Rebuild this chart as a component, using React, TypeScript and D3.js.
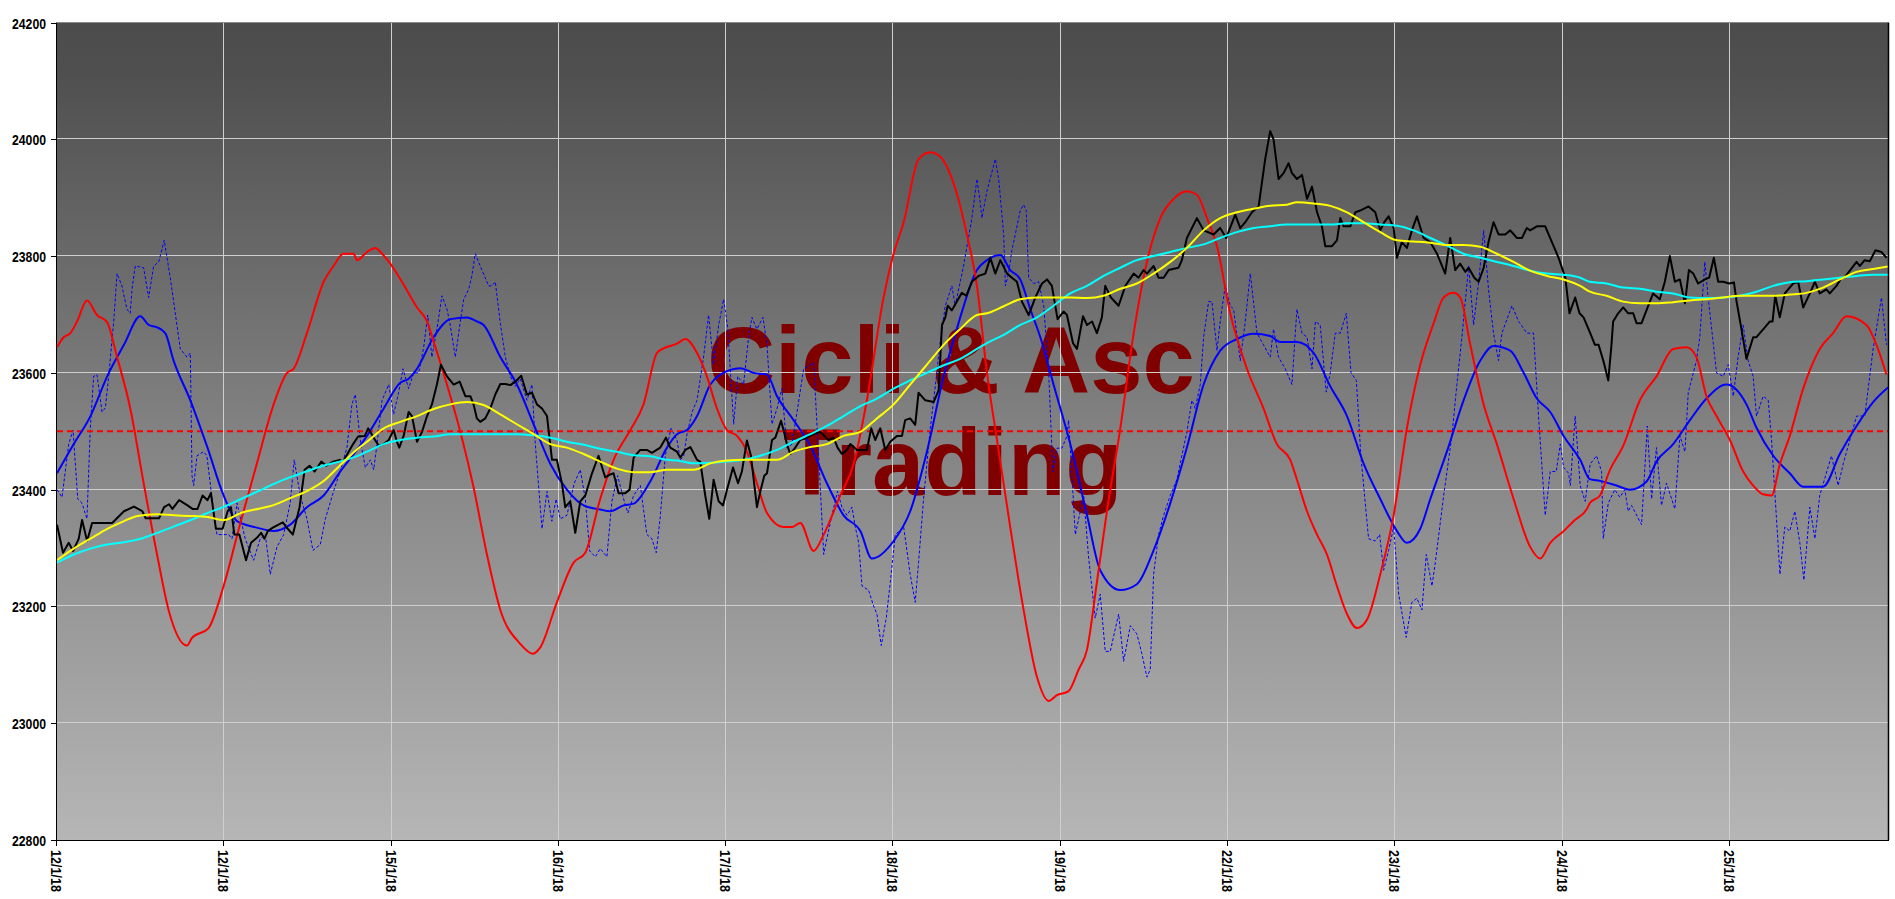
import React from 'react';
import * as d3 from 'd3';

const W = 1895;
const H = 899;
const PL = 57, PR = 1888, PT = 22.5, PB = 840;

const dateLabels = ['12/1/18', '12/1/18', '15/1/18', '16/1/18', '17/1/18', '18/1/18', '19/1/18', '22/1/18', '23/1/18', '24/1/18', '25/1/18'];
const yTicks = [22800, 23000, 23200, 23400, 23600, 23800, 24000, 24200];
const dayExtent = 10.945;
const levelValue = 23500;
const watermark = ['Cicli & Asc', 'Trading'];

// [day, value]
const price: [number, number][] = [[0,23340],[0.036,23292],[0.07,23309],[0.096,23295],[0.13,23316],[0.15,23348],[0.18,23312],[0.21,23343],[0.33,23343],[0.40,23363],[0.46,23371],[0.51,23363],[0.53,23351],[0.61,23351],[0.64,23370],[0.67,23375],[0.69,23367],[0.73,23382],[0.78,23373],[0.81,23367],[0.84,23367],[0.87,23390],[0.90,23382],[0.92,23394],[0.95,23333],[0.99,23333],[1.02,23363],[1.04,23370],[1.06,23323],[1.09,23323],[1.13,23279],[1.16,23309],[1.20,23319],[1.22,23326],[1.24,23316],[1.26,23329],[1.29,23335],[1.35,23344],[1.37,23336],[1.41,23323],[1.45,23370],[1.48,23434],[1.51,23441],[1.54,23431],[1.58,23448],[1.61,23441],[1.65,23448],[1.69,23451],[1.71,23448],[1.77,23478],[1.80,23491],[1.84,23492],[1.86,23505],[1.893,23489],[1.923,23475],[1.953,23478],[1.983,23485],[2.012,23502],[2.032,23482],[2.046,23472],[2.072,23492],[2.102,23533],[2.122,23526],[2.152,23482],[2.182,23499],[2.212,23526],[2.241,23546],[2.271,23580],[2.295,23614],[2.331,23594],[2.371,23580],[2.407,23585],[2.441,23560],[2.471,23560],[2.49,23546],[2.51,23522],[2.53,23516],[2.56,23522],[2.59,23539],[2.62,23563],[2.65,23581],[2.68,23581],[2.71,23579],[2.74,23585],[2.775,23595],[2.809,23563],[2.839,23566],[2.869,23546],[2.899,23539],[2.929,23526],[2.959,23451],[2.988,23451],[3.018,23411],[3.038,23370],[3.068,23380],[3.098,23326],[3.128,23380],[3.158,23390],[3.198,23428],[3.237,23458],[3.277,23421],[3.307,23426],[3.327,23428],[3.357,23394],[3.397,23394],[3.423,23400],[3.447,23455],[3.486,23468],[3.526,23468],[3.556,23463],[3.606,23472],[3.64,23489],[3.666,23472],[3.706,23465],[3.726,23455],[3.756,23468],[3.786,23473],[3.826,23451],[3.845,23448],[3.875,23390],[3.899,23350],[3.925,23417],[3.955,23380],[3.981,23373],[4.005,23400],[4.041,23438],[4.071,23411],[4.094,23431],[4.124,23484],[4.148,23458],[4.184,23370],[4.204,23397],[4.228,23424],[4.244,23428],[4.274,23485],[4.294,23489],[4.328,23518],[4.343,23502],[4.363,23478],[4.383,23461],[4.413,23472],[4.443,23485],[4.483,23489],[4.523,23495],[4.563,23499],[4.612,23485],[4.642,23489],[4.666,23472],[4.692,23461],[4.722,23468],[4.742,23478],[4.782,23468],[4.841,23468],[4.867,23505],[4.891,23485],[4.921,23505],[4.951,23468],[4.981,23482],[5.021,23492],[5.051,23492],[5.07,23519],[5.10,23522],[5.13,23511],[5.15,23566],[5.19,23553],[5.24,23550],[5.27,23570],[5.29,23682],[5.31,23695],[5.324,23715],[5.349,23707],[5.379,23722],[5.409,23737],[5.435,23732],[5.469,23756],[5.509,23766],[5.549,23770],[5.579,23797],[5.609,23770],[5.639,23793],[5.679,23770],[5.708,23763],[5.738,23756],[5.768,23722],[5.808,23699],[5.848,23729],[5.888,23753],[5.918,23760],[5.947,23749],[5.981,23692],[6.017,23705],[6.037,23699],[6.073,23651],[6.097,23641],[6.133,23697],[6.157,23682],[6.187,23688],[6.216,23668],[6.246,23695],[6.266,23749],[6.30,23729],[6.346,23715],[6.386,23749],[6.436,23770],[6.465,23763],[6.495,23776],[6.515,23770],[6.555,23783],[6.585,23763],[6.615,23763],[6.645,23776],[6.704,23780],[6.724,23793],[6.754,23831],[6.814,23865],[6.854,23844],[6.914,23837],[6.953,23848],[6.989,23831],[7.043,23871],[7.073,23848],[7.103,23858],[7.143,23875],[7.183,23885],[7.222,23966],[7.252,24014],[7.272,24000],[7.302,23932],[7.332,23942],[7.362,23959],[7.382,23942],[7.412,23932],[7.442,23939],[7.472,23898],[7.502,23919],[7.532,23875],[7.561,23851],[7.581,23817],[7.621,23817],[7.651,23827],[7.671,23865],[7.691,23851],[7.731,23851],[7.761,23875],[7.79,23878],[7.84,23885],[7.88,23875],[7.91,23844],[7.934,23858],[7.96,23868],[7.99,23848],[8.01,23797],[8.039,23824],[8.069,23814],[8.099,23844],[8.129,23868],[8.169,23831],[8.209,23824],[8.249,23804],[8.298,23770],[8.328,23831],[8.358,23776],[8.388,23787],[8.418,23773],[8.438,23780],[8.472,23763],[8.498,23756],[8.528,23780],[8.557,23824],[8.587,23858],[8.617,23837],[8.657,23837],[8.687,23844],[8.727,23831],[8.757,23831],[8.786,23848],[8.806,23844],[8.846,23851],[8.896,23851],[8.936,23824],[8.976,23797],[9.016,23763],[9.041,23702],[9.075,23729],[9.101,23702],[9.125,23695],[9.165,23668],[9.193,23648],[9.215,23648],[9.243,23621],[9.273,23587],[9.292,23648],[9.302,23688],[9.332,23702],[9.362,23712],[9.392,23702],[9.422,23702],[9.442,23685],[9.472,23685],[9.512,23715],[9.541,23736],[9.581,23726],[9.611,23756],[9.641,23800],[9.671,23756],[9.701,23760],[9.731,23719],[9.755,23776],[9.781,23770],[9.81,23753],[9.85,23760],[9.876,23763],[9.904,23797],[9.93,23756],[9.96,23756],[9.996,23753],[10.024,23755],[10.04,23722],[10.069,23675],[10.099,23624],[10.139,23661],[10.159,23661],[10.179,23668],[10.209,23678],[10.239,23688],[10.255,23688],[10.271,23732],[10.298,23695],[10.328,23736],[10.378,23753],[10.408,23756],[10.438,23712],[10.478,23736],[10.508,23756],[10.537,23736],[10.577,23743],[10.597,23736],[10.637,23749],[10.667,23763],[10.687,23764],[10.757,23790],[10.776,23783],[10.806,23793],[10.836,23791],[10.87,23810],[10.906,23807],[10.936,23797]];

const fastAvg: [number, number][] = [[0,23279],[0.1,23299],[0.2,23316],[0.3,23333],[0.4,23346],[0.48,23355],[0.6,23358],[0.7,23356],[0.8,23355],[0.9,23353],[1.0,23348],[1.1,23360],[1.2,23367],[1.29,23373],[1.39,23385],[1.49,23397],[1.59,23414],[1.69,23441],[1.79,23468],[1.853,23482],[1.953,23505],[2.052,23516],[2.152,23526],[2.251,23538],[2.351,23546],[2.451,23550],[2.55,23545],[2.65,23529],[2.749,23512],[2.849,23495],[2.949,23478],[3.048,23472],[3.148,23461],[3.247,23448],[3.347,23436],[3.447,23430],[3.546,23430],[3.646,23434],[3.706,23434],[3.806,23434],[3.905,23445],[4.005,23450],[4.104,23451],[4.204,23451],[4.304,23451],[4.403,23465],[4.503,23473],[4.602,23478],[4.702,23492],[4.802,23499],[4.901,23522],[5.001,23546],[5.1,23580],[5.2,23614],[5.3,23648],[5.399,23675],[5.499,23699],[5.559,23702],[5.659,23714],[5.758,23726],[5.858,23729],[5.957,23729],[6.057,23729],[6.157,23728],[6.256,23732],[6.356,23744],[6.455,23753],[6.555,23770],[6.655,23790],[6.754,23814],[6.854,23844],[6.953,23865],[7.053,23875],[7.153,23881],[7.252,23886],[7.352,23888],[7.412,23892],[7.512,23890],[7.611,23886],[7.711,23875],[7.81,23858],[7.91,23841],[8.01,23827],[8.109,23825],[8.209,23823],[8.308,23819],[8.408,23819],[8.508,23816],[8.607,23804],[8.707,23790],[8.806,23775],[8.906,23766],[9.006,23760],[9.105,23749],[9.163,23739],[9.263,23732],[9.362,23722],[9.462,23719],[9.561,23719],[9.661,23721],[9.761,23724],[9.86,23726],[9.96,23729],[10.059,23732],[10.159,23732],[10.259,23732],[10.358,23734],[10.458,23737],[10.557,23746],[10.657,23760],[10.757,23773],[10.856,23778],[10.945,23782]];

const slowAvg: [number, number][] = [[0,23275],[0.1,23289],[0.2,23299],[0.3,23306],[0.4,23310],[0.5,23316],[0.6,23326],[0.7,23337],[0.8,23348],[0.9,23360],[1.0,23371],[1.1,23384],[1.2,23397],[1.29,23409],[1.39,23421],[1.49,23431],[1.59,23441],[1.69,23448],[1.79,23457],[1.853,23465],[1.953,23478],[2.052,23485],[2.152,23489],[2.251,23491],[2.351,23495],[2.451,23495],[2.55,23495],[2.65,23495],[2.749,23495],[2.849,23493],[2.949,23489],[3.048,23482],[3.148,23477],[3.247,23470],[3.347,23465],[3.447,23459],[3.546,23457],[3.646,23451],[3.706,23450],[3.806,23445],[3.905,23446],[4.005,23448],[4.104,23451],[4.204,23458],[4.304,23468],[4.403,23482],[4.503,23495],[4.602,23509],[4.702,23526],[4.802,23543],[4.901,23556],[5.001,23573],[5.1,23587],[5.2,23600],[5.3,23613],[5.399,23624],[5.499,23641],[5.559,23651],[5.659,23665],[5.758,23682],[5.858,23695],[5.957,23715],[6.057,23736],[6.157,23749],[6.256,23766],[6.356,23780],[6.455,23793],[6.555,23800],[6.655,23807],[6.754,23814],[6.854,23820],[6.953,23831],[7.053,23841],[7.153,23848],[7.252,23851],[7.352,23854],[7.412,23854],[7.512,23854],[7.611,23854],[7.711,23856],[7.81,23856],[7.91,23854],[8.01,23852],[8.109,23844],[8.209,23831],[8.308,23818],[8.408,23804],[8.508,23797],[8.607,23790],[8.707,23783],[8.806,23775],[8.906,23770],[9.006,23768],[9.105,23763],[9.163,23756],[9.263,23753],[9.362,23746],[9.462,23744],[9.561,23739],[9.661,23736],[9.761,23729],[9.86,23728],[9.96,23729],[10.059,23732],[10.159,23739],[10.259,23749],[10.358,23755],[10.458,23757],[10.557,23760],[10.657,23763],[10.757,23766],[10.856,23768],[10.945,23768]];

const cycleFast: [number, number][] = [[0,23428],[0.1,23478],[0.2,23526],[0.3,23594],[0.4,23648],[0.498,23697],[0.548,23682],[0.598,23678],[0.647,23668],[0.697,23621],[0.797,23553],[0.896,23475],[0.996,23390],[1.076,23346],[1.195,23335],[1.295,23329],[1.394,23340],[1.494,23370],[1.594,23390],[1.693,23431],[1.793,23468],[1.853,23492],[1.953,23539],[2.052,23583],[2.102,23590],[2.152,23607],[2.251,23661],[2.351,23692],[2.451,23695],[2.51,23688],[2.55,23682],[2.65,23627],[2.749,23580],[2.849,23512],[2.949,23444],[3.048,23400],[3.148,23373],[3.247,23366],[3.307,23363],[3.387,23373],[3.447,23376],[3.546,23414],[3.646,23472],[3.706,23495],[3.766,23502],[3.826,23526],[3.905,23580],[3.965,23597],[4.084,23608],[4.164,23600],[4.244,23597],[4.304,23560],[4.403,23519],[4.503,23475],[4.602,23411],[4.702,23356],[4.802,23329],[4.871,23282],[5.001,23312],[5.1,23363],[5.2,23465],[5.3,23594],[5.399,23695],[5.499,23776],[5.559,23793],[5.639,23802],[5.698,23776],[5.758,23760],[5.818,23709],[5.878,23661],[5.957,23580],[6.057,23478],[6.157,23356],[6.236,23262],[6.356,23228],[6.455,23238],[6.555,23296],[6.655,23377],[6.754,23472],[6.854,23580],[6.953,23638],[7.053,23658],[7.153,23667],[7.252,23663],[7.312,23653],[7.412,23653],[7.512,23634],[7.611,23577],[7.711,23526],[7.81,23445],[7.91,23384],[8.01,23329],[8.069,23309],[8.149,23333],[8.209,23384],[8.308,23465],[8.408,23553],[8.508,23621],[8.587,23646],[8.687,23638],[8.767,23600],[8.846,23556],[8.926,23533],[9.006,23492],[9.105,23451],[9.163,23418],[9.223,23415],[9.322,23407],[9.402,23400],[9.502,23414],[9.561,23448],[9.661,23478],[9.761,23519],[9.86,23556],[9.98,23580],[10.099,23546],[10.159,23506],[10.259,23458],[10.358,23428],[10.438,23405],[10.557,23405],[10.657,23461],[10.757,23509],[10.856,23550],[10.945,23575]];

const cycleRaw: [number, number][] = [[0,23400],[0.03,23387],[0.07,23478],[0.096,23502],[0.124,23384],[0.149,23377],[0.179,23350],[0.199,23505],[0.219,23594],[0.239,23597],[0.269,23533],[0.289,23540],[0.309,23594],[0.339,23688],[0.359,23770],[0.388,23749],[0.418,23709],[0.438,23702],[0.448,23743],[0.468,23783],[0.518,23780],[0.548,23729],[0.578,23783],[0.608,23790],[0.641,23827],[0.677,23763],[0.707,23702],[0.737,23641],[0.777,23627],[0.797,23634],[0.807,23424],[0.817,23407],[0.837,23458],[0.876,23465],[0.896,23458],[0.936,23363],[0.956,23323],[0.996,23323],[1.026,23323],[1.046,23316],[1.076,23377],[1.125,23316],[1.175,23279],[1.215,23316],[1.245,23323],[1.275,23255],[1.315,23302],[1.355,23323],[1.394,23377],[1.418,23451],[1.454,23390],[1.494,23350],[1.53,23296],[1.574,23306],[1.604,23350],[1.653,23397],[1.689,23428],[1.733,23472],[1.763,23546],[1.783,23563],[1.813,23485],[1.843,23438],[1.873,23451],[1.893,23434],[1.913,23478],[1.943,23553],[1.983,23580],[2.012,23529],[2.042,23566],[2.068,23607],[2.102,23573],[2.132,23600],[2.162,23600],[2.192,23644],[2.216,23699],[2.241,23627],[2.271,23675],[2.301,23732],[2.331,23709],[2.347,23688],[2.381,23627],[2.411,23688],[2.431,23726],[2.461,23743],[2.48,23766],[2.5,23804],[2.54,23776],[2.58,23749],[2.6,23749],[2.62,23756],[2.65,23685],[2.68,23627],[2.71,23594],[2.739,23577],[2.769,23590],[2.809,23553],[2.839,23580],[2.859,23478],[2.899,23333],[2.929,23397],[2.958,23346],[2.984,23384],[3.008,23350],[3.048,23356],[3.092,23411],[3.128,23434],[3.158,23384],[3.184,23295],[3.218,23285],[3.247,23299],[3.287,23285],[3.317,23380],[3.351,23424],[3.387,23384],[3.413,23360],[3.447,23390],[3.487,23407],[3.526,23323],[3.556,23316],[3.582,23292],[3.606,23353],[3.636,23458],[3.67,23505],[3.706,23485],[3.726,23451],[3.746,23458],[3.766,23495],[3.796,23533],[3.826,23553],[3.865,23627],[3.895,23699],[3.925,23614],[3.955,23682],[3.985,23726],[4.009,23678],[4.045,23512],[4.069,23594],[4.104,23580],[4.134,23661],[4.154,23695],[4.184,23675],[4.22,23695],[4.244,23648],[4.274,23512],[4.304,23539],[4.333,23573],[4.363,23471],[4.393,23478],[4.427,23539],[4.463,23607],[4.523,23617],[4.553,23458],[4.583,23289],[4.602,23316],[4.632,23356],[4.666,23397],[4.692,23370],[4.722,23356],[4.752,23370],[4.772,23336],[4.792,23309],[4.812,23235],[4.851,23228],[4.881,23201],[4.901,23187],[4.927,23133],[4.957,23180],[4.981,23241],[5.011,23323],[5.061,23336],[5.1,23255],[5.13,23207],[5.15,23275],[5.18,23384],[5.22,23505],[5.25,23577],[5.28,23655],[5.31,23715],[5.349,23749],[5.369,23715],[5.419,23783],[5.469,23865],[5.499,23932],[5.519,23891],[5.529,23865],[5.559,23912],[5.609,23966],[5.629,23932],[5.659,23837],[5.669,23749],[5.688,23770],[5.708,23810],[5.728,23837],[5.758,23878],[5.778,23888],[5.794,23878],[5.808,23763],[5.838,23753],[5.868,23756],[5.898,23715],[5.928,23600],[5.953,23431],[5.977,23471],[6.007,23471],[6.037,23492],[6.047,23519],[6.067,23424],[6.087,23323],[6.107,23350],[6.137,23390],[6.167,23282],[6.206,23180],[6.236,23221],[6.266,23123],[6.296,23123],[6.346,23187],[6.376,23106],[6.416,23167],[6.455,23153],[6.485,23119],[6.515,23079],[6.535,23092],[6.555,23255],[6.585,23323],[6.615,23356],[6.655,23390],[6.694,23417],[6.754,23499],[6.784,23553],[6.804,23539],[6.834,23580],[6.854,23661],[6.884,23722],[6.904,23722],[6.934,23638],[6.953,23688],[6.983,23749],[7.013,23715],[7.033,23709],[7.073,23621],[7.103,23688],[7.133,23770],[7.173,23668],[7.212,23648],[7.252,23627],[7.272,23675],[7.302,23627],[7.342,23607],[7.382,23580],[7.402,23668],[7.412,23709],[7.442,23668],[7.472,23661],[7.502,23607],[7.522,23688],[7.551,23682],[7.587,23567],[7.611,23600],[7.641,23668],[7.671,23668],[7.707,23702],[7.735,23600],[7.767,23587],[7.794,23458],[7.84,23316],[7.88,23312],[7.906,23323],[7.93,23262],[7.96,23296],[7.99,23336],[8.02,23221],[8.065,23147],[8.099,23207],[8.129,23214],[8.159,23194],[8.185,23289],[8.219,23235],[8.239,23275],[8.289,23390],[8.338,23492],[8.368,23580],[8.398,23661],[8.438,23783],[8.468,23682],[8.498,23756],[8.528,23844],[8.557,23743],[8.587,23668],[8.617,23621],[8.637,23668],[8.697,23715],[8.737,23688],[8.787,23668],[8.826,23668],[8.856,23526],[8.896,23356],[8.926,23431],[8.962,23431],[8.986,23478],[9.006,23438],[9.036,23428],[9.046,23407],[9.075,23526],[9.105,23407],[9.135,23380],[9.165,23444],[9.203,23458],[9.233,23431],[9.243,23316],[9.273,23377],[9.312,23400],[9.342,23387],[9.372,23400],[9.392,23363],[9.412,23373],[9.472,23340],[9.506,23509],[9.532,23384],[9.561,23472],[9.591,23373],[9.621,23411],[9.671,23367],[9.701,23492],[9.731,23465],[9.751,23566],[9.8,23621],[9.82,23661],[9.85,23790],[9.87,23729],[9.92,23600],[9.96,23594],[9.99,23614],[10.02,23560],[10.049,23627],[10.079,23682],[10.109,23621],[10.139,23594],[10.159,23526],[10.199,23560],[10.229,23553],[10.249,23485],[10.299,23255],[10.328,23336],[10.358,23329],[10.388,23363],[10.418,23309],[10.442,23245],[10.478,23370],[10.508,23316],[10.537,23390],[10.607,23458],[10.647,23407],[10.677,23444],[10.757,23526],[10.806,23526],[10.856,23641],[10.906,23729],[10.936,23648]];

const cycleSlow: [number, number][] = [[0,23644],[0.04,23661],[0.08,23668],[0.12,23688],[0.179,23724],[0.239,23699],[0.299,23687],[0.359,23627],[0.438,23539],[0.518,23411],[0.598,23289],[0.667,23194],[0.777,23133],[0.807,23146],[0.906,23163],[0.996,23235],[1.096,23343],[1.195,23445],[1.295,23546],[1.375,23600],[1.414,23607],[1.494,23668],[1.594,23756],[1.653,23783],[1.713,23804],[1.773,23804],[1.793,23793],[1.853,23807],[1.903,23814],[1.943,23804],[1.992,23787],[2.062,23756],[2.152,23712],[2.212,23688],[2.251,23654],[2.331,23580],[2.411,23499],[2.49,23404],[2.57,23289],[2.65,23194],[2.769,23136],[2.843,23119],[2.889,23130],[2.988,23207],[3.088,23275],[3.158,23292],[3.247,23384],[3.327,23451],[3.427,23502],[3.506,23546],[3.586,23634],[3.626,23642],[3.706,23650],[3.756,23658],[3.826,23634],[3.885,23594],[3.945,23539],[4.005,23502],[4.065,23492],[4.124,23465],[4.184,23411],[4.244,23360],[4.343,23336],[4.393,23336],[4.443,23343],[4.523,23295],[4.583,23323],[4.682,23390],[4.762,23444],[4.841,23553],[4.941,23729],[5.001,23804],[5.061,23858],[5.15,23966],[5.22,23978],[5.28,23970],[5.359,23925],[5.439,23837],[5.499,23749],[5.559,23600],[5.619,23485],[5.698,23336],[5.778,23194],[5.858,23079],[5.928,23038],[5.977,23048],[6.047,23055],[6.107,23092],[6.157,23126],[6.216,23241],[6.276,23363],[6.356,23505],[6.436,23668],[6.515,23790],[6.595,23865],[6.675,23898],[6.754,23911],[6.814,23905],[6.874,23865],[6.934,23817],[7.013,23702],[7.113,23607],[7.212,23539],[7.292,23478],[7.372,23451],[7.412,23417],[7.472,23363],[7.532,23323],[7.591,23289],[7.651,23235],[7.711,23187],[7.771,23163],[7.83,23177],[7.91,23255],[7.99,23356],[8.069,23505],[8.149,23614],[8.229,23685],[8.289,23729],[8.348,23737],[8.388,23729],[8.448,23648],[8.528,23546],[8.607,23478],[8.707,23384],[8.806,23302],[8.866,23282],[8.926,23309],[9.006,23329],[9.065,23346],[9.145,23367],[9.163,23377],[9.223,23390],[9.283,23434],[9.362,23475],[9.462,23553],[9.561,23594],[9.661,23641],[9.741,23644],[9.8,23627],[9.86,23560],[9.92,23526],[10.0,23485],[10.079,23431],[10.139,23407],[10.199,23392],[10.249,23390],[10.299,23444],[10.358,23492],[10.438,23573],[10.537,23641],[10.617,23668],[10.697,23697],[10.816,23682],[10.876,23648],[10.936,23597]];

export default function App() {
  const x = d3.scaleLinear().domain([0, dayExtent]).range([PL, PR]);
  const y = d3.scaleLinear().domain([22800, 24200]).range([PB, PT]);

  const lin = d3.line<[number, number]>().x(d => x(d[0])).y(d => y(d[1]));
  const smooth = d3.line<[number, number]>().x(d => x(d[0])).y(d => y(d[1])).curve(d3.curveMonotoneX);

  const dayTicks = d3.range(dateLabels.length);
  const snap = (v: number) => Math.round(v) + 0.5;
  const labelFont = '"Liberation Sans", Arial, sans-serif';

  return (
    <svg width={W} height={H} style={{ position: 'absolute', left: 0, top: 0, display: 'block', background: '#ffffff' }}>
      <defs>
        <linearGradient id="bg" x1="0" y1="0" x2="0" y2="1">
          <stop offset="0" stopColor="#4c4c4c" />
          <stop offset="0.06" stopColor="#4f4f4f" />
          <stop offset="0.5" stopColor="#828282" />
          <stop offset="1" stopColor="#b6b6b6" />
        </linearGradient>
        <clipPath id="plot">
          <rect x={PL} y={PT} width={PR - PL} height={PB - PT} />
        </clipPath>
      </defs>
      <rect x={PL} y={PT} width={PR - PL} height={PB - PT} fill="url(#bg)" />

      {/* watermark */}
      <g fontFamily={labelFont} fontWeight="bold" fontSize={94} fill="#800000" textAnchor="middle">
        <text x={951} y={393}>{watermark[0]}</text>
        <text x={953} y={495}>{watermark[1]}</text>
      </g>

      {/* grid */}
      <g stroke="#cfcfcf" strokeWidth={1}>
        {yTicks.slice(1, -1).map(v => (
          <line key={v} x1={PL} x2={PR} y1={snap(y(v)) - 1} y2={snap(y(v)) - 1} />
        ))}
        {dayTicks.slice(1).map(d => (
          <line key={d} x1={snap(x(d)) - 1} x2={snap(x(d)) - 1} y1={PT} y2={PB} />
        ))}
      </g>

      <g clipPath="url(#plot)" fill="none">
        <path d={lin(cycleRaw) || ''} stroke="#0000ff" strokeWidth={1} strokeDasharray="3,2" />
        <line x1={PL} x2={PR} y1={y(levelValue)} y2={y(levelValue)} stroke="#ff0000" strokeWidth={2} strokeDasharray="6,4" />
        <path d={smooth(cycleFast) || ''} stroke="#0000ff" strokeWidth={2} />
        <path d={smooth(cycleSlow) || ''} stroke="#ff0000" strokeWidth={2} />
        <path d={lin(price) || ''} stroke="#000000" strokeWidth={2} strokeLinejoin="round" />
        <path d={smooth(slowAvg) || ''} stroke="#00ffff" strokeWidth={2} />
        <path d={smooth(fastAvg) || ''} stroke="#ffff00" strokeWidth={2} />
      </g>

      {/* frame */}
      <line x1={PL} x2={PR} y1={22.5} y2={22.5} stroke="#8a8a8a" strokeWidth={1} />
      <line x1={PR + 0.5} x2={PR + 0.5} y1={PT} y2={PB} stroke="#000" strokeWidth={1.5} />
      <line x1={PL - 0.5} x2={PL - 0.5} y1={PT} y2={PB + 0.5} stroke="#000" strokeWidth={1} />
      <line x1={PL - 0.5} x2={PR + 1} y1={PB + 0.5} y2={PB + 0.5} stroke="#000" strokeWidth={1} />

      {/* y axis */}
      <g fontFamily={labelFont} fontWeight="bold" fontSize={15} fill="#000">
        {yTicks.map(v => (
          <g key={v}>
            <line x1={51} x2={PL} y1={Math.round(y(v)) + 0.5} y2={Math.round(y(v)) + 0.5} stroke="#000" strokeWidth={1} />
            <text x={46} y={Math.round(y(v)) + 6} textAnchor="end" textLength={34} lengthAdjust="spacingAndGlyphs">{v}</text>
          </g>
        ))}
      </g>

      {/* x axis */}
      <g fontFamily={labelFont} fontWeight="bold" fontSize={15} fill="#000">
        {dayTicks.map(d => (
          <g key={d}>
            <line x1={Math.round(x(d)) - 0.5} x2={Math.round(x(d)) - 0.5} y1={PB} y2={PB + 6} stroke="#000" strokeWidth={1} />
            <text transform={`translate(${Math.round(x(d)) - 0.5},850) rotate(90)`} x={0} y={5.5} textLength={42} lengthAdjust="spacingAndGlyphs">{dateLabels[d]}</text>
          </g>
        ))}
      </g>
    </svg>
  );
}
